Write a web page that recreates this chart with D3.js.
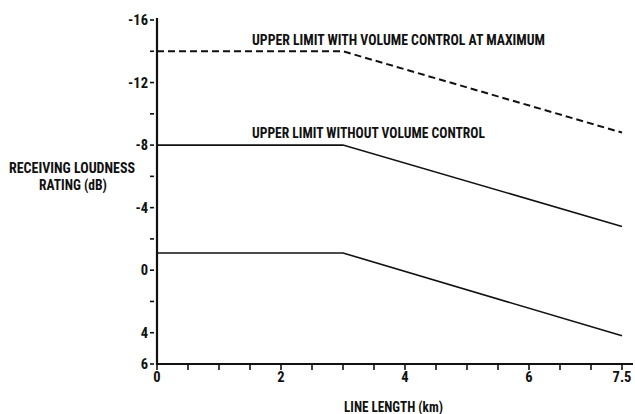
<!DOCTYPE html>
<html>
<head>
<meta charset="utf-8">
<script src="https://cdn.jsdelivr.net/npm/d3@7"></script>
<style>
  html, body { margin: 0; padding: 0; background: #fff; }
  svg { display: block; }
  text { font-family: "Liberation Sans Narrow", "Arial Narrow", "Roboto Condensed", "DejaVu Sans Condensed", sans-serif; font-weight: bold; fill: #111; }
</style>
</head>
<body>
<script>
// Line length (km) at the break points of each limit curve
const lengthKm = [0, 3, 7.5];
// Receiving loudness rating (dB) limits
const maxVolumeLimit = [-14, -14, -8.8];
const noVolumeLimit = [-8, -8, -2.8];
const lowerLimit = [-1.1, -1.1, 4.2];

const xTicks = [0, 0.5, 1, 1.5, 2, 2.5, 3, 3.5, 4, 4.5, 5, 5.5, 6, 6.5, 7, 7.5];
const xTickLabels = [0, 2, 4, 6, 7.5];
const yTicks = [-16, -14, -12, -10, -8, -6, -4, -2, 0, 2, 4, 6];
const yTickLabels = [-16, -12, -8, -4, 0, 4, 6];

const W = 635, H = 414;
const svg = d3.select("body").append("svg").attr("width", W).attr("height", H);

const x = d3.scaleLinear().domain([0, 7.5]).range([157, 622]);
const y = d3.scaleLinear().domain([-16, 6]).range([20, 364]);

// X axis
const xAxis = svg.append("g").attr("transform", `translate(0,${y(6)})`);
xAxis.append("line").attr("x1", x(0)).attr("x2", 633).attr("y1", 0).attr("y2", 0)
  .attr("stroke", "#111").attr("stroke-width", 2);
xAxis.selectAll("line.tick").data(xTicks).enter().append("line")
  .attr("class", "tick")
  .attr("x1", d => x(d)).attr("x2", d => x(d))
  .attr("y1", 0).attr("y2", 6)
  .attr("stroke", "#111").attr("stroke-width", 1.6);
xAxis.selectAll("text").data(xTickLabels).enter().append("text")
  .attr("x", d => x(d)).attr("y", 18)
  .attr("text-anchor", "middle").attr("font-size", 14.5)
  .text(d => d);

// Y axis
const yAxis = svg.append("g").attr("transform", `translate(${x(0)},0)`);
yAxis.append("line").attr("x1", 0).attr("x2", 0).attr("y1", y(-16) - 2).attr("y2", y(6) + 1)
  .attr("stroke", "#111").attr("stroke-width", 2.2);
yAxis.selectAll("line.tick").data(yTicks).enter().append("line")
  .attr("class", "tick")
  .attr("x1", -7).attr("x2", -3)
  .attr("y1", d => y(d)).attr("y2", d => y(d))
  .attr("stroke", "#111").attr("stroke-width", 1.6);
yAxis.selectAll("text").data(yTickLabels).enter().append("text")
  .attr("x", -9).attr("y", d => y(d)).attr("dy", "0.36em")
  .attr("text-anchor", "end").attr("font-size", 14.5)
  .text(d => (d < 0 ? "-" + Math.abs(d) : d));

// Limit curves
const line = d3.line().x(d => x(d[0])).y(d => y(d[1]));
const pts = vals => lengthKm.map((k, i) => [k, vals[i]]);

svg.append("path").datum(pts(maxVolumeLimit)).attr("d", line)
  .attr("fill", "none").attr("stroke", "#111").attr("stroke-width", 2)
  .attr("stroke-dasharray", "7,4");
svg.append("path").datum(pts(noVolumeLimit)).attr("d", line)
  .attr("fill", "none").attr("stroke", "#111").attr("stroke-width", 1.6);
svg.append("path").datum(pts(lowerLimit)).attr("d", line)
  .attr("fill", "none").attr("stroke", "#111").attr("stroke-width", 1.6);

// Curve labels
svg.append("text").attr("x", 252).attr("y", y(-14) - 6)
  .attr("font-size", 14).attr("textLength", 293).attr("lengthAdjust", "spacingAndGlyphs")
  .text("UPPER LIMIT WITH VOLUME CONTROL AT MAXIMUM");
svg.append("text").attr("x", 252).attr("y", y(-8) - 7)
  .attr("font-size", 14).attr("textLength", 233).attr("lengthAdjust", "spacingAndGlyphs")
  .text("UPPER LIMIT WITHOUT VOLUME CONTROL");

// Axis titles
svg.append("text").attr("x", 9).attr("y", 173)
  .attr("font-size", 14).attr("textLength", 126).attr("lengthAdjust", "spacingAndGlyphs")
  .text("RECEIVING LOUDNESS");
svg.append("text").attr("x", 39).attr("y", 190)
  .attr("font-size", 14).attr("textLength", 68).attr("lengthAdjust", "spacingAndGlyphs")
  .text("RATING (dB)");
svg.append("text").attr("x", 344).attr("y", 412)
  .attr("font-size", 14).attr("textLength", 99).attr("lengthAdjust", "spacingAndGlyphs")
  .text("LINE LENGTH (km)");
</script>
</body>
</html>
